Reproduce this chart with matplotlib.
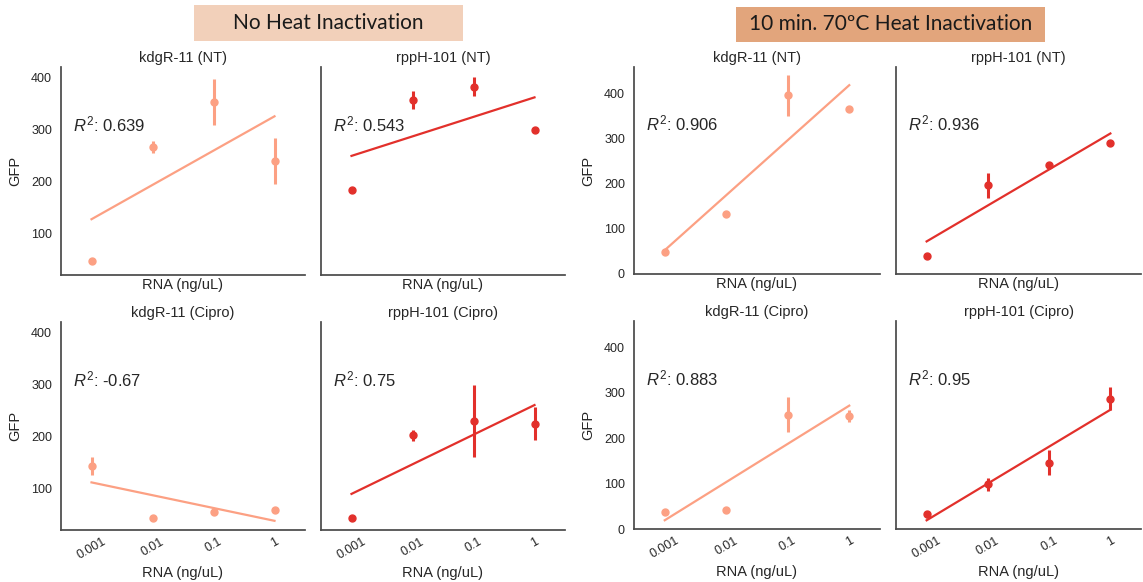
import numpy as np
import matplotlib
matplotlib.use("Agg")
import matplotlib.pyplot as plt
from matplotlib.patches import Rectangle

plt.rcParams["font.family"] = ["Liberation Sans", "DejaVu Sans"]
plt.rcParams["mathtext.fontset"] = "custom"
plt.rcParams["mathtext.it"] = "Liberation Sans:italic"
plt.rcParams["mathtext.rm"] = "Liberation Sans"

# RNA concentrations (categorical x positions)
rna_levels = ["0.001", "0.01", "0.1", "1"]

# Mean GFP and error per condition
nh_kdgr_nt = [47, 266, 353, 239]
nh_kdgr_nt_err = [2, 12, 45, 45]
nh_rpph_nt = [183, 357, 383, 300]
nh_rpph_nt_err = [3, 18, 18, 5]
nh_kdgr_cipro = [143, 42.5, 53, 57]
nh_kdgr_cipro_err = [17, 2, 3, 3]
nh_rpph_cipro = [42.5, 202, 230, 224]
nh_rpph_cipro_err = [3, 11, 69, 32]

ht_kdgr_nt = [48, 132, 395, 366]
ht_kdgr_nt_err = [3, 3, 45, 3]
ht_rpph_nt = [39, 196, 242, 289]
ht_rpph_nt_err = [3, 27, 5, 6]
ht_kdgr_cipro = [38.5, 42.3, 252, 249]
ht_kdgr_cipro_err = [3, 3, 38, 14]
ht_rpph_cipro = [32.5, 98, 146, 287]
ht_rpph_cipro_err = [8, 14, 27.5, 26]

r2_labels = {
    "nh_kdgr_nt": "0.639", "nh_rpph_nt": "0.543",
    "nh_kdgr_cipro": "-0.67", "nh_rpph_cipro": "0.75",
    "ht_kdgr_nt": "0.906", "ht_rpph_nt": "0.936",
    "ht_kdgr_cipro": "0.883", "ht_rpph_cipro": "0.95",
}

group_titles = ["No Heat Inactivation", "10 min. 70\u00baC Heat Inactivation"]
panel_titles = [["kdgR-11 (NT)", "rppH-101 (NT)"], ["kdgR-11 (Cipro)", "rppH-101 (Cipro)"]]

KDGR_COLOR = "#FCA083"
RPPH_COLOR = "#E2302B"
SPINE = "#4a4a4a"
TEXT = "#262626"

W, H = 1143, 582
fig = plt.figure(figsize=(W / 100, H / 100), dpi=100)


def box(x0, x1, y0, y1):
    return [x0 / W, 1 - y1 / H, (x1 - x0) / W, (y1 - y0) / H]


groups = [
    {
        "xs": [(61, 305), (321, 565)],
        "ys": [(67, 275), (322, 530)],
        "ylim": (19, 421),
        "yticks": [100, 200, 300, 400],
        "data": [[("nh_kdgr_nt", nh_kdgr_nt, nh_kdgr_nt_err), ("nh_rpph_nt", nh_rpph_nt, nh_rpph_nt_err)],
                 [("nh_kdgr_cipro", nh_kdgr_cipro, nh_kdgr_cipro_err), ("nh_rpph_cipro", nh_rpph_cipro, nh_rpph_cipro_err)]],
        "header": (194, 463, 5, 41, "#F2D0BA"),
    },
    {
        "xs": [(634, 880), (896, 1141)],
        "ys": [(67, 274), (321, 529)],
        "ylim": (0, 458),
        "yticks": [0, 100, 200, 300, 400],
        "data": [[("ht_kdgr_nt", ht_kdgr_nt, ht_kdgr_nt_err), ("ht_rpph_nt", ht_rpph_nt, ht_rpph_nt_err)],
                 [("ht_kdgr_cipro", ht_kdgr_cipro, ht_kdgr_cipro_err), ("ht_rpph_cipro", ht_rpph_cipro, ht_rpph_cipro_err)]],
        "header": (736, 1045, 7, 42, "#E2A57C"),
    },
]

xpos = np.arange(len(rna_levels))

for g, grp in enumerate(groups):
    for r in range(2):
        for c in range(2):
            key, means, errs = grp["data"][r][c]
            color = KDGR_COLOR if c == 0 else RPPH_COLOR
            x0, x1 = grp["xs"][c]
            y0, y1 = grp["ys"][r]
            ax = fig.add_axes(box(x0, x1, y0, y1))
            means = np.asarray(means, float)
            ax.errorbar(xpos, means, yerr=errs, fmt="o", ms=5, color=color,
                        elinewidth=2.2, capsize=0, zorder=3)
            slope, icpt = np.polyfit(xpos, means, 1)
            ax.plot([xpos[0], xpos[-1]], [icpt + slope * xpos[0], icpt + slope * xpos[-1]],
                    color=color, lw=1.6, zorder=2)
            ax.text(0.05, 0.725, r"$R^2$: " + r2_labels[key], transform=ax.transAxes,
                    fontsize=12, color=TEXT, va="center", ha="left")
            ax.set_xlim(-0.5, 3.5)
            ax.set_ylim(*grp["ylim"])
            ax.set_yticks(grp["yticks"])
            ax.set_xticks(xpos)
            for s in ["top", "right"]:
                ax.spines[s].set_visible(False)
            for s in ["left", "bottom"]:
                ax.spines[s].set_color(SPINE)
                ax.spines[s].set_linewidth(1.25)
            ax.tick_params(length=0, labelsize=9, colors=TEXT, pad=6.5)
            ax.tick_params(axis="x", pad=4)
            if r == 1:
                ax.set_xticklabels(rna_levels, rotation=30, ha="center")
                ax.set_xlabel("RNA (ng/uL)", fontsize=10.5, color=TEXT, labelpad=3)
            else:
                ax.set_xticklabels([])
                ax.set_xlabel("RNA (ng/uL)", fontsize=10.5, color=TEXT, labelpad=-2)
            if c == 0:
                ax.set_ylabel("GFP", fontsize=10.5, color=TEXT, labelpad=6)
            else:
                ax.set_yticklabels([])
            ax.set_title(panel_titles[r][c], fontsize=10.5, color=TEXT, pad=3.5)

    hx0, hx1, hy0, hy1, hcol = grp["header"]
    fig.patches.append(Rectangle((hx0 / W, 1 - hy1 / H), (hx1 - hx0) / W, (hy1 - hy0) / H,
                                 transform=fig.transFigure, facecolor=hcol, edgecolor="none"))
    fig.text((hx0 + hx1) / 2 / W, 1 - (hy0 + hy1) / 2 / H, group_titles[g],
             fontsize=15, family=["Lato", "DejaVu Sans"], color="#1a1a1a",
             ha="center", va="center")

fig.savefig("out.png", dpi=100)
